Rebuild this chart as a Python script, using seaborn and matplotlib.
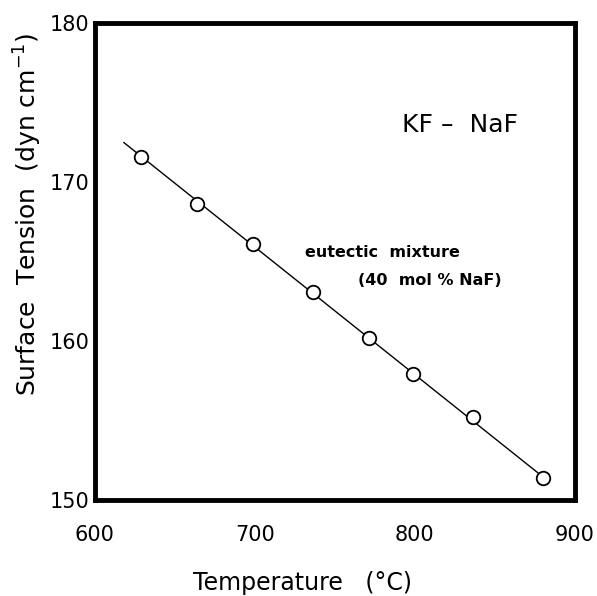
import numpy as np
import pandas as pd
import seaborn as sns
import matplotlib.pyplot as plt

temp = [629, 664, 699, 736, 771, 799, 836, 880]
tension = [171.6, 168.6, 166.1, 163.1, 160.2, 157.9, 155.2, 151.4]

# fitted line end points
fit_temp = [618, 882]
fit_tension = [172.5, 151.3]

xticks = [600, 700, 800, 900]
yticks = [150, 160, 170, 180]

sns.set_style("white")
plt.rcParams['font.family'] = ['DejaVu Sans']
plt.rcParams['text.color'] = 'black'
plt.rcParams['axes.labelcolor'] = 'black'
plt.rcParams['xtick.color'] = 'black'
plt.rcParams['ytick.color'] = 'black'

df = pd.DataFrame({'T': temp, 'S': tension})
fit = pd.DataFrame({'T': fit_temp, 'S': fit_tension})

fig = plt.figure(figsize=(5.97, 5.96), dpi=100)
ax = fig.add_axes([0.159, 0.161, 0.804, 0.800])

sns.lineplot(data=fit, x='T', y='S', color='black', linewidth=1.0, ax=ax)
sns.scatterplot(data=df, x='T', y='S', s=95, facecolor='white',
                edgecolor='black', linewidth=1.3, zorder=3, ax=ax)

ax.set_xlim(600, 900)
ax.set_ylim(150, 180)
ax.set_xticks(xticks)
ax.set_yticks(yticks)
ax.tick_params(axis='x', length=0, labelsize=15, pad=18)
ax.tick_params(axis='y', length=0, labelsize=15, pad=4)

for sp in ax.spines.values():
    sp.set_linewidth(3.5)
    sp.set_color('black')

ax.set_xlabel("Temperature   (°C)", fontsize=17, va='center')
ax.set_ylabel("Surface  Tension  (dyn cm$^{-1}$)", fontsize=18, va='center')
ax.xaxis.set_label_coords(0.433, -0.174)
ax.yaxis.set_label_coords(-0.14, 0.60)

ax.text(828, 173.6, "KF –  NaF", fontsize=18, ha='center', va='center')
ax.text(780, 165.6, "eutectic  mixture", fontsize=11.5, fontweight='bold',
        ha='center', va='center')
ax.text(809, 163.8, "(40  mol % NaF)", fontsize=11.5, fontweight='bold',
        ha='center', va='center')

fig.savefig("out.png", dpi=100)
